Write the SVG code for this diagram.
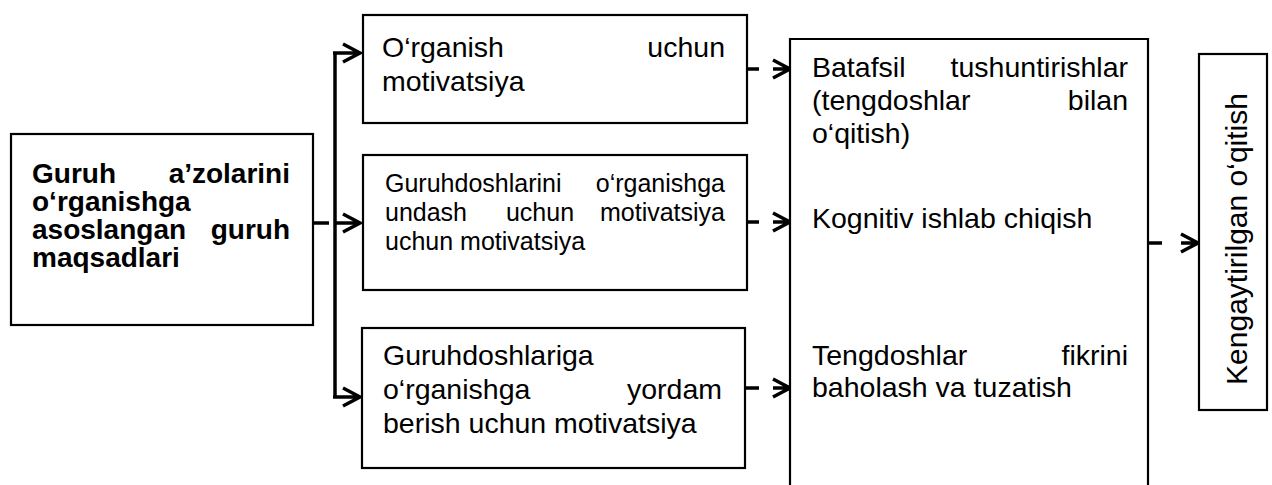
<svg xmlns="http://www.w3.org/2000/svg" width="1272" height="485" viewBox="0 0 1272 485">
<style>
.box{fill:#fff;stroke:#000;stroke-width:2.2}
.t{font-family:"Liberation Sans",Arial,sans-serif;fill:#000}
.b{font-weight:bold;font-size:28px}
.r30{font-size:30px}
.r285{font-size:28.5px}
.r25{font-size:25px}
.c{fill:none;stroke:#000;stroke-width:3.5;stroke-linejoin:miter}
</style>
<rect width="1272" height="485" fill="#fff"/>
<g id="connectors">
<path class="c" d="M313 223H329"/>
<path class="c" d="M335 53V397"/>
<path class="c" d="M333 53H360M343 44L360 53L343 62"/>
<path class="c" d="M335 223H360M343 214L360 223L343 232"/>
<path class="c" d="M333 397H360M343 388L360 397L343 406"/>
<path class="c" d="M747 69H759M773 69H790M773 60L790 69L773 78"/>
<path class="c" d="M747 222H759M773 222H790M773 213L790 222L773 231"/>
<path class="c" d="M745 388H759M773 388H790M773 379L790 388L773 397"/>
<path class="c" d="M1148 243H1162M1181 243H1198M1181 234L1198 243L1181 252"/>
</g>
<g id="n-main">
<rect class="box" x="11" y="134" width="302" height="191"/>
<text class="t b" x="32" y="183">Guruh</text>
<text class="t b" x="290" y="183" text-anchor="end">a’zolarini</text>
<text class="t b" x="32" y="211">o‘rganishga</text>
<text class="t b" x="32" y="239">asoslangan</text>
<text class="t b" x="290" y="239" text-anchor="end">guruh</text>
<text class="t b" x="32" y="267">maqsadlari</text>
</g>
<g id="n-box1">
<rect class="box" x="363" y="15" width="384" height="108"/>
<text class="t r285" x="382" y="57">O‘rganish</text>
<text class="t r285" x="725" y="57" text-anchor="end">uchun</text>
<text class="t r285" x="382" y="91">motivatsiya</text>
</g>
<g id="n-box2">
<rect class="box" x="363" y="155" width="384" height="135"/>
<text class="t r25" x="385" y="192">Guruhdoshlarini</text>
<text class="t r25" x="725" y="192" text-anchor="end">o‘rganishga</text>
<text class="t r25" x="385" y="221">undash</text>
<text class="t r25" x="540" y="221" text-anchor="middle">uchun</text>
<text class="t r25" x="725" y="221" text-anchor="end">motivatsiya</text>
<text class="t r25" x="385" y="250">uchun motivatsiya</text>
</g>
<g id="n-box3">
<rect class="box" x="362" y="328" width="383" height="140"/>
<text class="t r285" x="383" y="365">Guruhdoshlariga</text>
<text class="t r285" x="383" y="399">o‘rganishga</text>
<text class="t r285" x="722" y="399" text-anchor="end">yordam</text>
<text class="t r285" x="383" y="433">berish uchun motivatsiya</text>
</g>
<g id="n-big">
<path class="box" d="M790 487V39H1148V487" fill="none"/>
<text class="t r285" x="812" y="77">Batafsil</text>
<text class="t r285" x="1128" y="77" text-anchor="end">tushuntirishlar</text>
<text class="t r285" x="812" y="110">(tengdoshlar</text>
<text class="t r285" x="1128" y="110" text-anchor="end">bilan</text>
<text class="t r285" x="812" y="143">o‘qitish)</text>
<text class="t r285" x="812" y="228">Kognitiv ishlab chiqish</text>
<text class="t r285" x="812" y="365">Tengdoshlar</text>
<text class="t r285" x="1128" y="365" text-anchor="end">fikrini</text>
<text class="t r285" x="812" y="397">baholash va tuzatish</text>
</g>
<g id="n-right">
<rect class="box" x="1199" y="54" width="68" height="356"/>
<text class="t r30" transform="translate(1247 239) rotate(-90)" text-anchor="middle">Kengaytirilgan o‘qitish</text>
</g>
</svg>
